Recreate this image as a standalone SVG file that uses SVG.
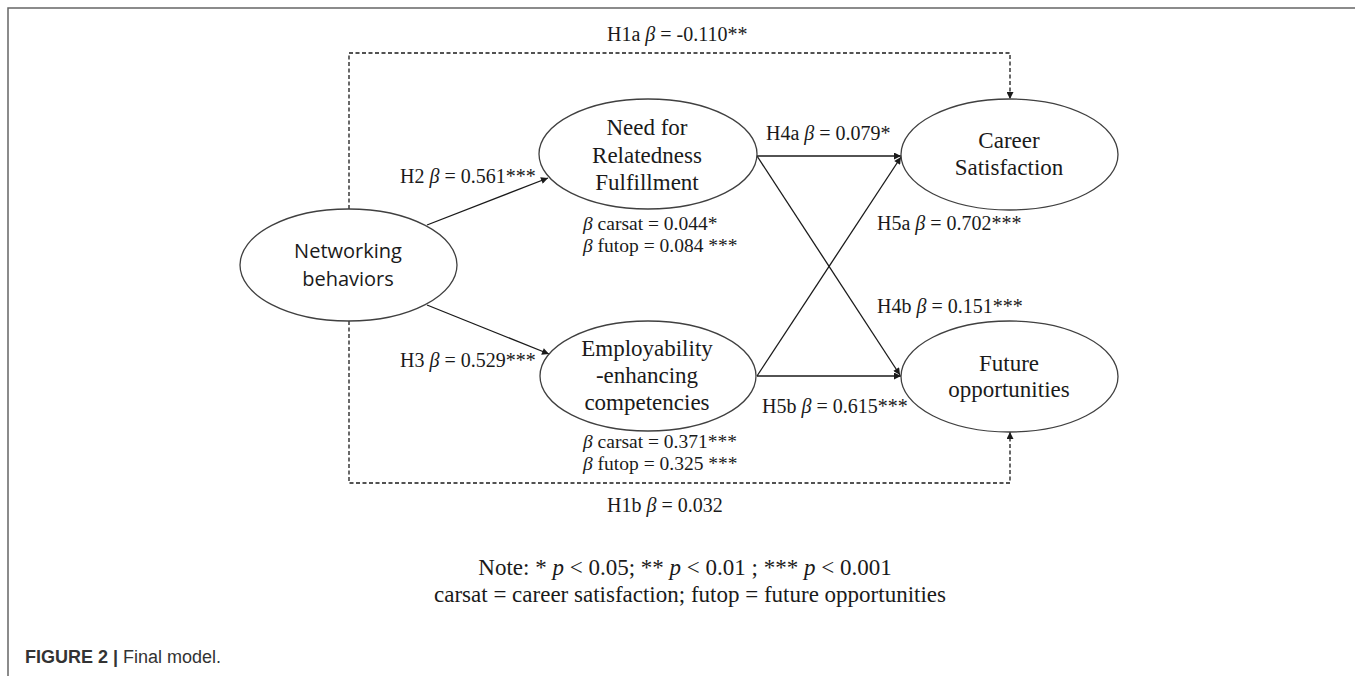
<svg xmlns="http://www.w3.org/2000/svg" width="1355" height="676" viewBox="0 0 1355 676">
<style>
.node{fill:#fff;stroke:#404040;stroke-width:1.3}
.nt{font-family:"Liberation Serif","Times New Roman",serif;font-size:23px;fill:#1a1a1a;text-anchor:middle}
.ns{font-family:"Open Sans","Noto Sans",sans-serif;font-size:20px;fill:#1a1a1a;text-anchor:middle}
.lb{font-family:"Liberation Serif","Times New Roman",serif;font-size:20px;fill:#1a1a1a}
.sm{font-family:"Liberation Serif","Times New Roman",serif;font-size:19.5px;fill:#1a1a1a}
.note{font-family:"Liberation Serif","Times New Roman",serif;font-size:23px;fill:#1a1a1a;text-anchor:middle}
.i{font-style:italic}
.edge{fill:none;stroke:#1a1a1a;stroke-width:1.3}
.dash{fill:none;stroke:#1a1a1a;stroke-width:1.3;stroke-dasharray:4 2.5}
.cap{font-family:"Liberation Sans",Arial,sans-serif;font-size:18px;fill:#333}
</style>
<defs>
<marker id="arr" viewBox="0 0 10 10" refX="10" refY="5" markerWidth="9" markerHeight="7" orient="auto" markerUnits="userSpaceOnUse">
<path d="M0,0 L10,5 L0,10 z" fill="#1a1a1a"/>
</marker>
</defs>
<rect width="1355" height="676" fill="#fff"/>
<path d="M8,676 V8 H1355" fill="none" stroke="#666" stroke-width="1.5"/>

<g id="connectors">
<path class="dash" d="M349,209 V53 H1010 V99" marker-end="url(#arr)"/>
<path class="dash" d="M349,321 V483 H1010 V432" marker-end="url(#arr)"/>
<line class="edge" x1="427" y1="225" x2="548" y2="178" marker-end="url(#arr)"/>
<line class="edge" x1="427" y1="305" x2="549" y2="354" marker-end="url(#arr)"/>
<line class="edge" x1="757" y1="156" x2="901" y2="156" marker-end="url(#arr)"/>
<line class="edge" x1="757" y1="376" x2="901" y2="157" marker-end="url(#arr)"/>
<line class="edge" x1="757" y1="156" x2="900" y2="375" marker-end="url(#arr)"/>
<line class="edge" x1="757" y1="376" x2="901" y2="376" marker-end="url(#arr)"/>
</g>

<g id="edge-labels">
<text class="lb" x="607" y="41">H1a <tspan class="i">β</tspan> = -0.110**</text>
<text class="lb" x="400" y="183">H2 <tspan class="i">β</tspan> = 0.561***</text>
<text class="lb" x="400" y="367">H3 <tspan class="i">β</tspan> = 0.529***</text>
<text class="lb" x="766" y="140">H4a <tspan class="i">β</tspan> = 0.079*</text>
<text class="lb" x="877" y="230">H5a <tspan class="i">β</tspan> = 0.702***</text>
<text class="lb" x="877" y="313">H4b <tspan class="i">β</tspan> = 0.151***</text>
<text class="lb" x="762" y="413">H5b <tspan class="i">β</tspan> = 0.615***</text>
<text class="lb" x="607" y="512">H1b <tspan class="i">β</tspan> = 0.032</text>
</g>

<g id="node-networking">
<ellipse class="node" cx="348.5" cy="265" rx="108.5" ry="56"/>
<text class="ns" x="348" y="258">Networking</text>
<text class="ns" x="348" y="286">behaviors</text>
</g>

<g id="node-need">
<ellipse class="node" cx="648" cy="154" rx="109" ry="55"/>
<text class="nt" x="647" y="135">Need for</text>
<text class="nt" x="647" y="163">Relatedness</text>
<text class="nt" x="647" y="190">Fulfillment</text>
<text class="sm" x="583" y="230"><tspan class="i">β</tspan> carsat = 0.044*</text>
<text class="sm" x="583" y="252"><tspan class="i">β</tspan> futop = 0.084 ***</text>
</g>

<g id="node-employability">
<ellipse class="node" cx="648" cy="376" rx="108" ry="55"/>
<text class="nt" x="647" y="356">Employability</text>
<text class="nt" x="647" y="383">-enhancing</text>
<text class="nt" x="647" y="410">competencies</text>
<text class="sm" x="583" y="448"><tspan class="i">β</tspan> carsat = 0.371***</text>
<text class="sm" x="583" y="470"><tspan class="i">β</tspan> futop = 0.325 ***</text>
</g>

<g id="node-career">
<ellipse class="node" cx="1009.5" cy="154.5" rx="108.5" ry="55.5"/>
<text class="nt" x="1009" y="148">Career</text>
<text class="nt" x="1009" y="175">Satisfaction</text>
</g>

<g id="node-future">
<ellipse class="node" cx="1009.5" cy="376.5" rx="108.5" ry="55.5"/>
<text class="nt" x="1009" y="371">Future</text>
<text class="nt" x="1009" y="397">opportunities</text>
</g>

<g id="note">
<text class="note" x="685" y="575">Note: * <tspan class="i">p</tspan> &lt; 0.05; ** <tspan class="i">p</tspan> &lt; 0.01 ; *** <tspan class="i">p</tspan> &lt; 0.001</text>
<text class="note" x="690" y="602">carsat = career satisfaction; futop = future opportunities</text>
</g>

<g id="caption">
<text class="cap" x="25" y="663"><tspan font-weight="bold">FIGURE 2</tspan> <tspan font-weight="bold">|</tspan> Final model.</text>
</g>
</svg>
